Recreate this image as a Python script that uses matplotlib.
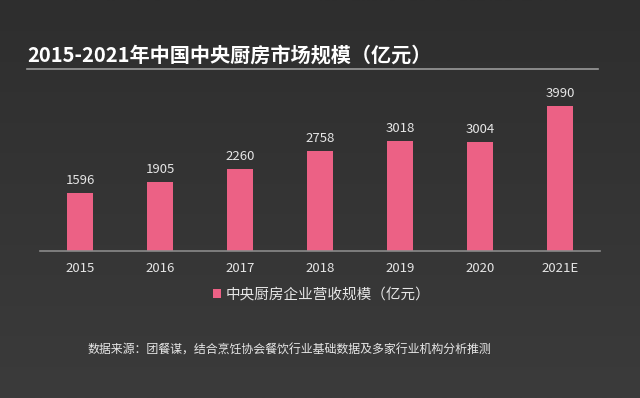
import matplotlib.pyplot as plt
import numpy as np
from matplotlib.colors import LinearSegmentedColormap

plt.rcParams['font.family'] = ['Noto Sans CJK SC', 'DejaVu Sans']

years = ["2015", "2016", "2017", "2018", "2019", "2020", "2021E"]
revenue = [1596, 1905, 2260, 2758, 3018, 3004, 3990]

title = "2015-2021年中国中央厨房市场规模（亿元）"
series_name = "中央厨房企业营收规模（亿元）"
source = "数据来源：团餐谋，结合烹饪协会餐饮行业基础数据及多家行业机构分析推测"

bar_color = "#ec6185"
text_color = "#e6e6e6"

W, H = 640, 398
fig = plt.figure(figsize=(W / 100, H / 100), dpi=100)

# background gradient
bg = fig.add_axes([0, 0, 1, 1], zorder=-10)
grad = np.linspace(0, 1, 256).reshape(-1, 1)
bg.imshow(grad, aspect="auto", cmap=LinearSegmentedColormap.from_list("bg", ["#2e2e2e", "#3b3b3b"]),
          extent=[0, 1, 0, 1], origin="upper")
bg.set_axis_off()

# title and rule
fig.text(27 / W, 1 - 55 / H, title, color="white", fontsize=14.5, fontweight="bold",
         va="center", ha="left")
fig.add_artist(plt.Line2D([27 / W, 598 / W], [1 - 68.5 / H] * 2, color="#9a9a9a", lw=1.2))

# main chart
ax_bottom = 1 - 251 / H
ax_top = 1 - 80 / H
ax = fig.add_axes([40 / W, ax_bottom, 560 / W, ax_top - ax_bottom])
ax.patch.set_alpha(0)
x = np.arange(len(years))
ax.bar(x, revenue, width=0.33, color=bar_color, label=series_name)
ax.set_xlim(-0.5, len(years) - 0.5)
ymax = 3990 * (251 - 80) / 145
ax.set_ylim(0, ymax)
for xi, v in zip(x, revenue):
    ax.text(xi, v + ymax * 0.035, str(v), ha="center", va="bottom", color=text_color, fontsize=9.5)

ax.set_xticks(x)
ax.set_xticklabels(years, color=text_color, fontsize=9.5)
ax.tick_params(axis="x", length=0, pad=8)
ax.set_yticks([])
for s in ["top", "left", "right"]:
    ax.spines[s].set_visible(False)
ax.spines["bottom"].set_color("#8a8a8a")
ax.spines["bottom"].set_linewidth(1.2)

ax.legend(loc="center", bbox_to_anchor=((322 - 40) / 560, (1 - 295 / H - ax_bottom) / (ax_top - ax_bottom)),
          frameon=False, fontsize=10.5, handlelength=0.55, handleheight=0.55,
          handletextpad=0.3, labelcolor=text_color)

fig.text(87 / W, 1 - 350 / H, source, color=text_color, fontsize=8.6, va="center", ha="left")

fig.savefig("out.png", dpi=100, facecolor="#333333")
